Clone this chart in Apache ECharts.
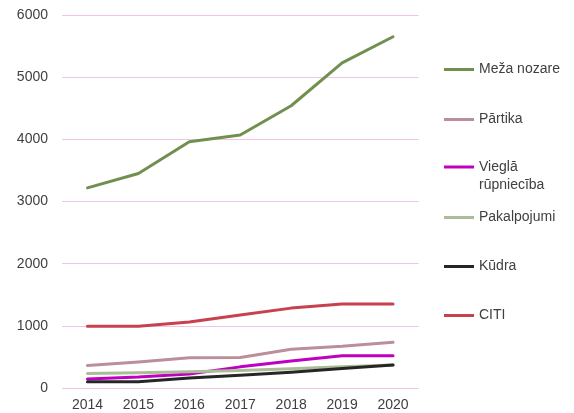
<!DOCTYPE html>
<html>
<head>
<meta charset="utf-8">
<script src="https://cdn.jsdelivr.net/npm/echarts@6/dist/echarts.min.js"></script>
<style>
  html, body { margin: 0; padding: 0; background: #fff; }
  #chart { width: 574px; height: 413px; }
</style>
</head>
<body>
<div id="chart"></div>
<script>
// Years on the horizontal axis
const years = ['2014', '2015', '2016', '2017', '2018', '2019', '2020'];

// Values per sector
const mezaNozare = [3220, 3450, 3960, 4070, 4540, 5230, 5650];
const partika = [360, 420, 485, 490, 625, 670, 735];
const vieglaRupnieciba = [145, 175, 225, 340, 435, 520, 520];
const pakalpojumi = [235, 245, 262, 282, 310, 340, 370];
const kudra = [100, 100, 160, 205, 252, 315, 370];
const citi = [995, 995, 1060, 1175, 1285, 1350, 1350];

const seriesNames = ['Meža nozare', 'Pārtika', 'Vieglā rūpniecība', 'Pakalpojumi', 'Kūdra', 'CITI'];
const seriesData = [mezaNozare, partika, vieglaRupnieciba, pakalpojumi, kudra, citi];
const seriesColors = ['#71904f', '#bb8f99', '#c000c0', '#abbc98', '#262626', '#c8414f'];
// vertical centre of each legend marker
const legendCenters = [69, 119, 167, 217, 266, 315];

const font = '"Liberation Sans", Arial, sans-serif';
const textColor = '#404040';

const chart = echarts.init(document.getElementById('chart'), null, { renderer: 'canvas' });

const legends = seriesNames.map((name, i) => {
  const multi = name === 'Vieglā rūpniecība';
  return {
    data: [name],
    orient: 'vertical',
    left: 444,
    // a leading blank line keeps the first text line level with the marker
    top: multi ? legendCenters[i] - 27 : legendCenters[i] - 6.5,
    itemWidth: 30,
    itemHeight: 3,
    itemGap: 0,
    padding: 0,
    icon: 'rect',
    selectedMode: false,
    formatter: multi ? ' \nVieglā\nrūpniecība' : '{name}',
    textStyle: multi
      ? { fontFamily: font, fontSize: 14, color: textColor, lineHeight: 18 }
      : { fontFamily: font, fontSize: 14, color: textColor }
  };
});

chart.setOption({
  animation: false,
  backgroundColor: '#fff',
  grid: { left: 62, right: 155.5, top: 15, bottom: 25, containLabel: false },
  legend: legends,
  xAxis: {
    type: 'category',
    data: years,
    boundaryGap: true,
    axisLine: { show: false },
    axisTick: { show: false },
    axisLabel: { fontFamily: font, fontSize: 14, color: textColor, margin: 10 }
  },
  yAxis: {
    type: 'value',
    min: 0,
    max: 6000,
    interval: 1000,
    axisLine: { show: false },
    axisTick: { show: false },
    axisLabel: {
      fontFamily: font, fontSize: 14, color: textColor, margin: 14,
      formatter: v => String(v)
    },
    splitLine: { lineStyle: { color: '#f0c4e6', width: 1 } }
  },
  series: seriesNames.map((name, i) => ({
    name: name,
    type: 'line',
    data: seriesData[i],
    symbol: 'none',
    lineStyle: { width: 3, color: seriesColors[i], cap: 'round', join: 'round' },
    itemStyle: { color: seriesColors[i] }
  }))
});
</script>
</body>
</html>
